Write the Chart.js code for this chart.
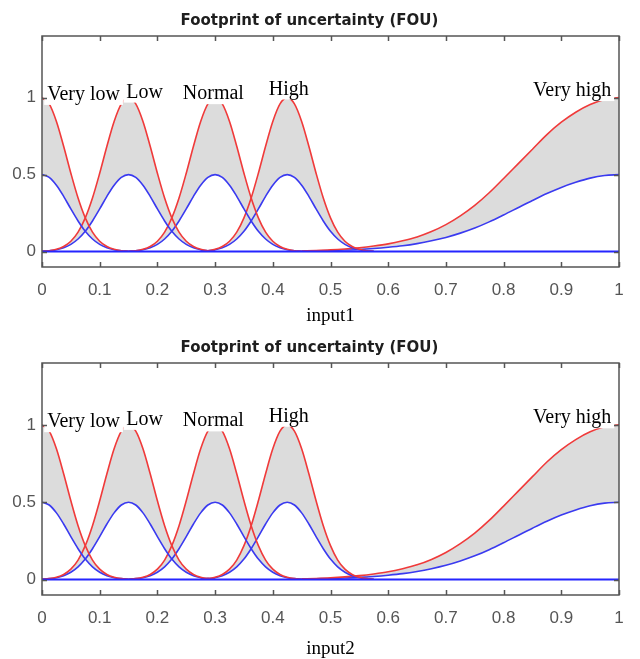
<!DOCTYPE html>
<html lang="en">
<head>
<meta charset="UTF-8">
<title>Footprint of uncertainty (FOU)</title>
<script src="https://cdn.jsdelivr.net/npm/chart.js"></script>
<style>
  body { margin: 0; background: #fff; overflow: hidden; }
  .panel { position: absolute; left: 0; width: 640px; }
  #p1 { top: 0; height: 330px; }
  #p2 { top: 330px; height: 329px; }
</style>
</head>
<body>
<div class="panel" id="p1"><canvas id="fou1"></canvas></div>
<div class="panel" id="p2"><canvas id="fou2"></canvas></div>

<script>
// membership function names + where their labels sit (data units)
const mfNames = ['Very low', 'Low', 'Normal', 'High', 'Very high'];
const labelX = [0.009, 0.146, 0.244, 0.393, 0.851];
const labelY = [0.985, 1.0, 0.99, 1.02, 1.01];

const xTickValues = [0, 0.1, 0.2, 0.3, 0.4, 0.5, 0.6, 0.7, 0.8, 0.9, 1];
const yTickValues = [0, 0.5, 1];

// sample points (upper = red, lower = blue)
const xVeryLow = [0, 0.0125, 0.025, 0.0375, 0.05, 0.0625, 0.075, 0.0875, 0.1, 0.1125, 0.125, 0.1375, 0.15];
const upperVeryLow = [1, 0.959, 0.845, 0.684, 0.509, 0.348, 0.219, 0.126, 0.067, 0.033, 0.015, 0.006, 0.002];
const lowerVeryLow = [0.5, 0.482, 0.431, 0.359, 0.277, 0.199, 0.132, 0.082, 0.047, 0.025, 0.012, 0.006, 0.002];

const xLow = [0, 0.0125, 0.025, 0.0375, 0.05, 0.0625, 0.075, 0.0875, 0.1, 0.1125, 0.125, 0.1375, 0.15,
  0.1625, 0.175, 0.1875, 0.2, 0.2125, 0.225, 0.2375, 0.25, 0.2625, 0.275, 0.2875, 0.3];
const upperLow = [0.002, 0.006, 0.015, 0.033, 0.067, 0.126, 0.219, 0.348, 0.509, 0.684, 0.845, 0.959, 1,
  0.959, 0.845, 0.684, 0.509, 0.348, 0.219, 0.126, 0.067, 0.033, 0.015, 0.006, 0.002];
const lowerLow = [0.002, 0.006, 0.012, 0.025, 0.047, 0.082, 0.132, 0.199, 0.277, 0.359, 0.431, 0.482, 0.5,
  0.482, 0.431, 0.359, 0.277, 0.199, 0.132, 0.082, 0.047, 0.025, 0.012, 0.006, 0.002];

const xNormal = [0.15, 0.1625, 0.175, 0.1875, 0.2, 0.2125, 0.225, 0.2375, 0.25, 0.2625, 0.275, 0.2875, 0.3,
  0.3125, 0.325, 0.3375, 0.35, 0.3625, 0.375, 0.3875, 0.4, 0.4125, 0.425, 0.4375, 0.45];
const upperNormal = [0.002, 0.006, 0.015, 0.033, 0.067, 0.126, 0.219, 0.348, 0.509, 0.684, 0.845, 0.959, 1,
  0.959, 0.845, 0.684, 0.509, 0.348, 0.219, 0.126, 0.067, 0.033, 0.015, 0.006, 0.002];
const lowerNormal = [0.002, 0.006, 0.012, 0.025, 0.047, 0.082, 0.132, 0.199, 0.277, 0.359, 0.431, 0.482, 0.5,
  0.482, 0.431, 0.359, 0.277, 0.199, 0.132, 0.082, 0.047, 0.025, 0.012, 0.006, 0.002];

const xHigh = [0.275, 0.2875, 0.3, 0.3125, 0.325, 0.3375, 0.35, 0.3625, 0.375, 0.3875, 0.4, 0.4125, 0.425,
  0.4375, 0.45, 0.4625, 0.475, 0.4875, 0.5, 0.5125, 0.525, 0.5375, 0.55, 0.5625, 0.575];
const upperHigh = [0.002, 0.006, 0.015, 0.033, 0.067, 0.126, 0.219, 0.348, 0.509, 0.684, 0.845, 0.959, 1,
  0.959, 0.845, 0.684, 0.509, 0.348, 0.219, 0.126, 0.067, 0.033, 0.015, 0.006, 0.002];
const lowerHigh = [0.002, 0.006, 0.012, 0.025, 0.047, 0.082, 0.132, 0.199, 0.277, 0.359, 0.431, 0.482, 0.5,
  0.482, 0.431, 0.359, 0.277, 0.199, 0.132, 0.082, 0.047, 0.025, 0.012, 0.006, 0.002];

const xVeryHigh = [0.45, 0.475, 0.5, 0.525, 0.55, 0.575, 0.6, 0.625, 0.65, 0.675, 0.7, 0.725, 0.75, 0.775, 0.8,
  0.825, 0.85, 0.875, 0.9, 0.925, 0.95, 0.975, 1];
const upperVeryHigh = [0.004, 0.007, 0.011, 0.017, 0.025, 0.036, 0.05, 0.07, 0.095, 0.13, 0.175, 0.232, 0.3,
  0.382, 0.475, 0.57, 0.665, 0.76, 0.84, 0.905, 0.955, 0.988, 1];
const lowerVeryHigh = [0.003, 0.005, 0.007, 0.01, 0.014, 0.02, 0.028, 0.038, 0.052, 0.07, 0.092, 0.12, 0.153,
  0.193, 0.238, 0.285, 0.332, 0.377, 0.417, 0.45, 0.477, 0.494, 0.5];

const xBaseline = [0, 1];
const yBaseline = [0, 0];

const RED = '#f03a3a';
const BLUE = '#3a3af0';
const FOU_GREY = '#dcdcdc';
const TICK_FONT = '"Liberation Sans", Arial, sans-serif';

function pts(xs, ys) {
  return xs.map((x, i) => ({ x: x, y: ys[i] }));
}

function buildDatasets() {
  const mfs = [
    [xVeryLow, upperVeryLow, lowerVeryLow],
    [xLow, upperLow, lowerLow],
    [xNormal, upperNormal, lowerNormal],
    [xHigh, upperHigh, lowerHigh],
    [xVeryHigh, upperVeryHigh, lowerVeryHigh]
  ];
  const ds = [];
  mfs.forEach((m, i) => {
    ds.push({
      data: pts(m[0], m[1]), borderColor: RED, borderWidth: 1.6,
      backgroundColor: FOU_GREY, fill: 2 * i + 1, order: 1
    });
    ds.push({
      data: pts(m[0], m[2]), borderColor: BLUE, borderWidth: 1.6,
      fill: false, order: 1
    });
  });
  // zero line on top
  ds.push({ data: pts(xBaseline, yBaseline), borderColor: '#2525ff', borderWidth: 2, fill: false, order: 0 });
  return ds;
}

// MATLAB-ish box, inward ticks and the white-backed MF labels
const axesBox = {
  id: 'axesBox',
  afterDatasetsDraw(chart) {
    const { ctx, chartArea: a, scales } = chart;
    const x = scales.x, y = scales.y;
    ctx.save();

    ctx.font = '20px "Liberation Serif", "Times New Roman", serif';
    ctx.textBaseline = 'alphabetic';
    ctx.textAlign = 'left';
    mfNames.forEach((name, i) => {
      const px = x.getPixelForValue(labelX[i]);
      const py = y.getPixelForValue(labelY[i]);
      const w = ctx.measureText(name).width;
      ctx.fillStyle = '#fff';
      ctx.fillRect(px - 3, py - 17, w + 6, 22);
      ctx.fillStyle = '#000';
      ctx.fillText(name, px, py);
    });

    ctx.strokeStyle = '#555';
    ctx.lineWidth = 1.5;
    ctx.beginPath();
    xTickValues.forEach(v => {
      const px = Math.round(x.getPixelForValue(v)) + 0.5;
      ctx.moveTo(px, a.bottom); ctx.lineTo(px, a.bottom - 5);
      ctx.moveTo(px, a.top); ctx.lineTo(px, a.top + 5);
    });
    yTickValues.forEach(v => {
      const py = Math.round(y.getPixelForValue(v)) + 0.5;
      ctx.moveTo(a.left, py); ctx.lineTo(a.left + 5, py);
      ctx.moveTo(a.right, py); ctx.lineTo(a.right - 5, py);
    });
    ctx.stroke();
    ctx.strokeRect(a.left, a.top, a.right - a.left, a.bottom - a.top);
    ctx.restore();
  }
};

function makeChart(canvasId, xName, lay) {
  return new Chart(document.getElementById(canvasId), {
    type: 'line',
    data: { datasets: buildDatasets() },
    plugins: [axesBox],
    options: {
      responsive: true,
      maintainAspectRatio: false,
      animation: false,
      layout: { padding: { left: 0, right: 21, top: 0, bottom: 0 } },
      elements: { point: { radius: 0 }, line: { cubicInterpolationMode: 'monotone' } },
      plugins: {
        legend: { display: false },
        tooltip: { enabled: false },
        filler: { drawTime: 'beforeDatasetsDraw' },
        title: {
          display: true,
          text: 'Footprint of uncertainty (FOU)',
          color: '#1e1e1e',
          font: { family: '"DejaVu Sans", "Liberation Sans", sans-serif', size: 15, weight: 'bold', lineHeight: 1.2 },
          padding: { top: lay.titleTop, bottom: lay.titleBottom }
        }
      },
      scales: {
        x: {
          type: 'linear', min: 0, max: 1,
          afterBuildTicks: s => { s.ticks = xTickValues.map(v => ({ value: v })); },
          afterFit: s => { s.height = lay.xHeight; },
          grid: { display: false, drawTicks: false },
          border: { display: false },
          ticks: {
            color: '#555', padding: 13, maxRotation: 0, autoSkip: false,
            font: { family: TICK_FONT, size: 17 },
            callback: v => String(v)
          },
          title: {
            display: true, text: xName, color: '#000',
            font: { family: '"Liberation Serif", "Times New Roman", serif', size: 19, lineHeight: 1 },
            padding: { top: 0, bottom: lay.xTitleBottom }
          }
        },
        y: {
          min: -0.1, max: 1.4,
          afterBuildTicks: s => { s.ticks = yTickValues.map(v => ({ value: v })); },
          afterFit: s => { s.width = 42; },
          grid: { display: false, drawTicks: false },
          border: { display: false },
          ticks: {
            color: '#555', padding: 6,
            font: { family: TICK_FONT, size: 17 },
            callback: v => String(v)
          }
        }
      }
    }
  });
}

makeChart('fou1', 'input1', { titleTop: 12, titleBottom: 6, xHeight: 63, xTitleBottom: 4.5 });
makeChart('fou2', 'input2', { titleTop: 9, titleBottom: 6, xHeight: 64, xTitleBottom: 0.5 });
</script>
</body>
</html>
